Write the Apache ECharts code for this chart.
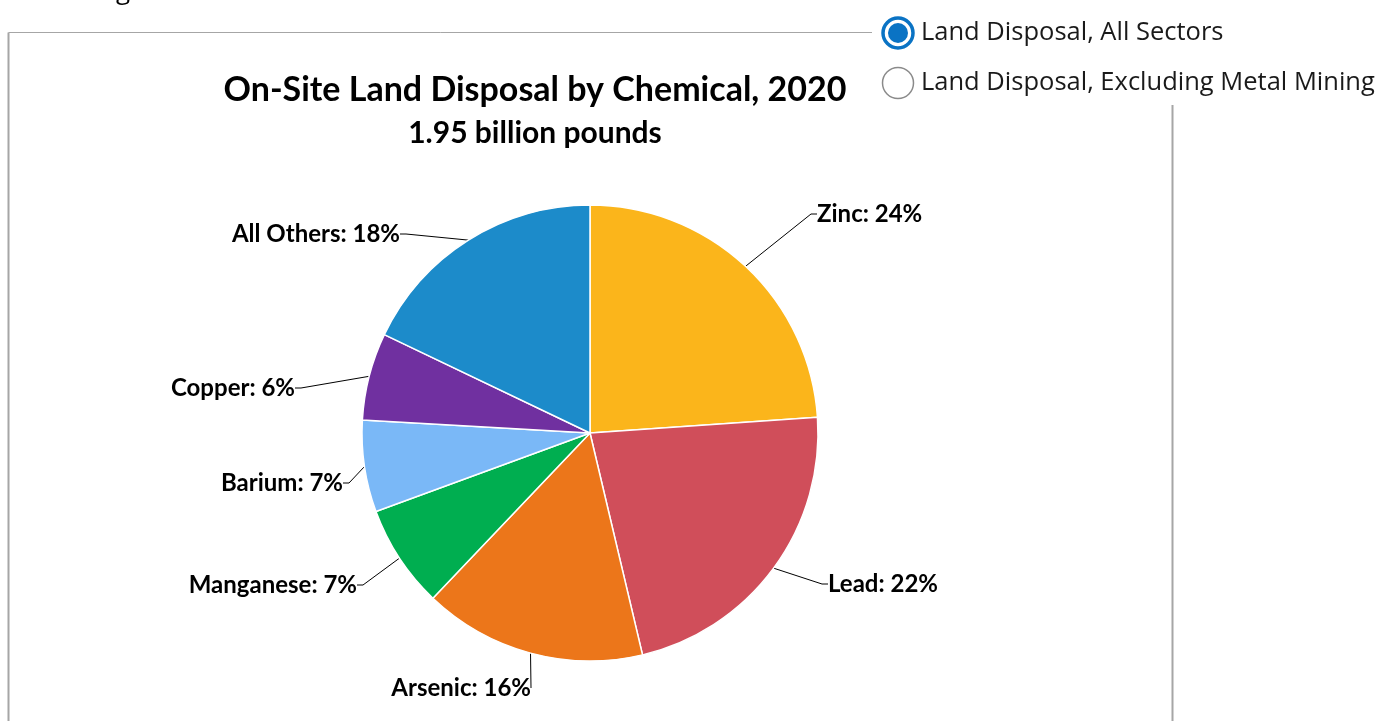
<!DOCTYPE html>
<html>
<head>
<meta charset="utf-8">
<script src="https://cdn.jsdelivr.net/npm/echarts@6/dist/echarts.min.js"></script>
<style>
    html, body { margin: 0; padding: 0; background: #fff; }
    #chart { width: 1384px; height: 721px; }
</style>
</head>
<body>
<div id="chart"></div>
<script>
// chemicals, share of on-site land disposal
var chemicals = ['Zinc', 'Lead', 'Arsenic', 'Manganese', 'Barium', 'Copper', 'All Others'];
var shares = [23.9, 22.4, 15.8, 7.3, 6.5, 6.2, 17.9];
var sliceColors = ['#FBB51B', '#D04E5A', '#EC761A', '#00AE50', '#7AB8F7', '#7030A0', '#1C8BCA'];

var titleText = 'On-Site Land Disposal by Chemical, 2020';
var subText = '1.95 billion pounds';
var radioTexts = ['Land Disposal, All Sectors', 'Land Disposal, Excluding Metal Mining'];

// where each label sits (Excel style manual placement)
var labelSpots = [
    [817, 214, 'left'],
    [828, 584, 'left'],
    [531, 688, 'right'],
    [357, 585, 'right'],
    [343, 483, 'right'],
    [295, 388, 'right'],
    [400, 234, 'right']
];

var myChart = echarts.init(document.getElementById('chart'));

var pieData = chemicals.map(function (name, i)
{
    return {
        name: name,
        value: shares[i],
        itemStyle: { color: sliceColors[i] },
        labelLine: { length2: i === 2 ? 0 : 6 }
    };
});

var option = {
    animation: false,
    title: [
        {
            text: titleText,
            left: 530,
            top: 68,
            textAlign: 'center',
            textStyle: { fontFamily: 'Lato', fontWeight: 'bold', fontSize: 34, color: '#000' }
        },
        {
            text: subText,
            left: 530,
            top: 113,
            textAlign: 'center',
            textStyle: { fontFamily: 'Lato', fontWeight: 'bold', fontSize: 30, color: '#000' }
        }
    ],
    graphic: [
        // frame around the chart
        { type: 'line', shape: { x1: 8.5, y1: 32.5, x2: 872, y2: 32.5 }, style: { stroke: '#a6a6a6', lineWidth: 1 } },
        { type: 'line', shape: { x1: 8.5, y1: 32.5, x2: 8.5, y2: 721 }, style: { stroke: '#a6a6a6', lineWidth: 2 } },
        { type: 'line', shape: { x1: 1172.5, y1: 105, x2: 1172.5, y2: 721 }, style: { stroke: '#a6a6a6', lineWidth: 2 } },
        // cut off heading above
        { type: 'text', left: 116, top: -21, style: { text: 'g', font: '26px "Open Sans"', fill: '#000' } },
        // radio buttons
        { type: 'circle', shape: { cx: 898, cy: 33, r: 15 }, style: { fill: '#fff', stroke: '#0A73C4', lineWidth: 3.5 } },
        { type: 'circle', shape: { cx: 898, cy: 33, r: 10 }, style: { fill: '#0A73C4' } },
        { type: 'text', left: 921, top: 20, style: { text: radioTexts[0], font: '25.5px "Open Sans"', fill: '#1a1a1a' } },
        { type: 'circle', shape: { cx: 898, cy: 83, r: 15.5 }, style: { fill: '#fff', stroke: '#8a8a8a', lineWidth: 1.5 } },
        { type: 'text', left: 921, top: 70, style: { text: radioTexts[1], font: '25.5px "Open Sans"', fill: '#1a1a1a' } }
    ],
    series: [
        {
            type: 'pie',
            center: [590, 433],
            radius: 228,
            startAngle: 90,
            clockwise: true,
            percentPrecision: 0,
            avoidLabelOverlap: false,
            itemStyle: { borderColor: '#fff', borderWidth: 1.5 },
            label: {
                show: true,
                position: 'outside',
                formatter: '{b}: {d}%',
                fontFamily: 'Lato',
                fontWeight: 'bold',
                fontSize: 24,
                color: '#000'
            },
            labelLine: {
                show: true,
                length: 20,
                length2: 6,
                smooth: false,
                lineStyle: { color: '#000', width: 1 }
            },
            labelLayout: function (params)
            {
                var spot = labelSpots[params.dataIndex];
                return { x: spot[0], y: spot[1], align: spot[2], verticalAlign: 'middle' };
            },
            emphasis: { disabled: true },
            data: pieData
        }
    ]
};

myChart.setOption(option);
</script>
</body>
</html>
